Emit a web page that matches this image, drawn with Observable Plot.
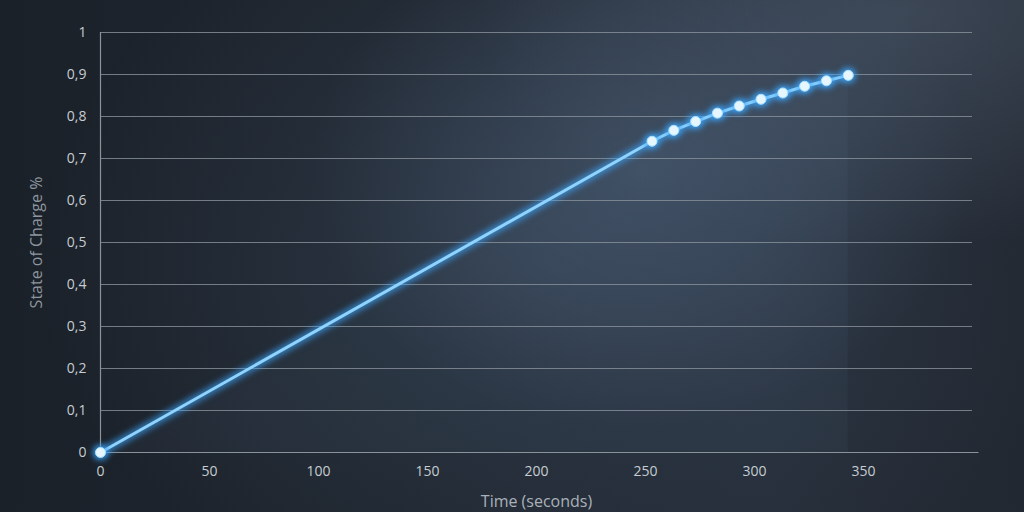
<!DOCTYPE html>
<html>
<head>
<meta charset="utf-8">
<script src="https://cdn.jsdelivr.net/npm/d3@7"></script>
<script src="https://cdn.jsdelivr.net/npm/@observablehq/plot@0.6"></script>
<style>
  html, body { margin: 0; padding: 0; }
  body {
    width: 1024px; height: 512px; overflow: hidden;
    background:
      radial-gradient(ellipse 330px 260px at 640px 170px, rgba(80,100,125,0.5), rgba(80,100,125,0) 100%),
      radial-gradient(ellipse 420px 240px at 900px 10px, rgba(85,100,120,0.5), rgba(85,100,120,0) 100%),
      radial-gradient(ellipse 520px 380px at 560px 260px, rgba(52,66,84,0.6), rgba(52,66,84,0) 100%),
      linear-gradient(90deg, #1b2129 0%, #1f262f 40%, #252d38 75%, #222831 100%);
    font-family: "Open Sans", "Noto Sans", sans-serif;
  }
  #chart svg { display: block; background: transparent; }
</style>
</head>
<body>
<div id="chart"></div>
<script>
const times = [0, 253, 263, 273, 283, 293, 303, 313, 323, 333, 343];
const charge = [0, 0.741, 0.767, 0.788, 0.808, 0.825, 0.841, 0.856, 0.872, 0.885, 0.898];
const xTicks = [0, 50, 100, 150, 200, 250, 300, 350];
const yTicks = [0, 0.1, 0.2, 0.3, 0.4, 0.5, 0.6, 0.7, 0.8, 0.9, 1];

const data = times.map((t, i) => ({t, soc: charge[i]}));
const fmt = d => String(+d.toFixed(2)).replace(".", ",");

const plot = Plot.plot({
  width: 1024,
  height: 512,
  marginLeft: 100,
  marginTop: 32,
  marginBottom: 60,
  marginRight: 52,
  style: {background: "transparent", fontFamily: "'Open Sans', 'Noto Sans', sans-serif", fontSize: "14px", color: "#c6ccd2"},
  x: {domain: [0, 400], ticks: xTicks, tickFormat: d => String(d), label: "Time (seconds)", labelAnchor: "center", labelOffset: 54, labelArrow: "none", tickSize: 0, tickPadding: 14},
  y: {domain: [0, 1], ticks: yTicks, tickFormat: fmt, label: "State of Charge %", labelAnchor: "center", labelOffset: 70, labelArrow: "none", tickSize: 0, tickPadding: 14},
  marks: [
    Plot.areaY(data, {x: "t", y: "soc", fill: "#7e9cc0", fillOpacity: 0.06}),
    Plot.gridY(yTicks, {stroke: "#8a929b", strokeOpacity: 0.8, strokeWidth: 1.2}),
    Plot.ruleX([0], {stroke: "#8a929b", strokeWidth: 1.2}),
    Plot.ruleY([0], {x1: 0, x2: 403, stroke: "#8a929b", strokeWidth: 1.2}),
    Plot.line(data, {x: "t", y: "soc", stroke: "#3aa6ff", strokeWidth: 10, strokeOpacity: 0.3}),
    Plot.line(data, {x: "t", y: "soc", stroke: "#8fd4ff", strokeWidth: 3}),
    Plot.dot(data, {x: "t", y: "soc", r: 9, fill: "#3aa6ff", fillOpacity: 0.35}),
    Plot.dot(data, {x: "t", y: "soc", r: 5, fill: "#e6f6ff", stroke: "#a8e0ff", strokeWidth: 1})
  ]
});
document.getElementById("chart").appendChild(plot);
const svg = d3.select(plot);
const lines = svg.selectAll('g[aria-label="line"]').nodes();
const dots = svg.selectAll('g[aria-label="dot"]').nodes();
if (lines[0]) d3.select(lines[0]).style("filter", "blur(3px)");
if (lines[1]) d3.select(lines[1]).style("filter", "drop-shadow(0 0 3px #3ea8ff)");
if (dots[0]) d3.select(dots[0]).style("filter", "blur(3px)");
if (dots[1]) d3.select(dots[1]).style("filter", "drop-shadow(0 0 3px #3ea8ff)");
svg.selectAll('[aria-label="y-axis label"] text').attr("fill", "#8d959f").style("font-size", "16px");
svg.selectAll('[aria-label="x-axis label"] text').attr("fill", "#aab1b9").style("font-size", "16px");
</script>
</body>
</html>
